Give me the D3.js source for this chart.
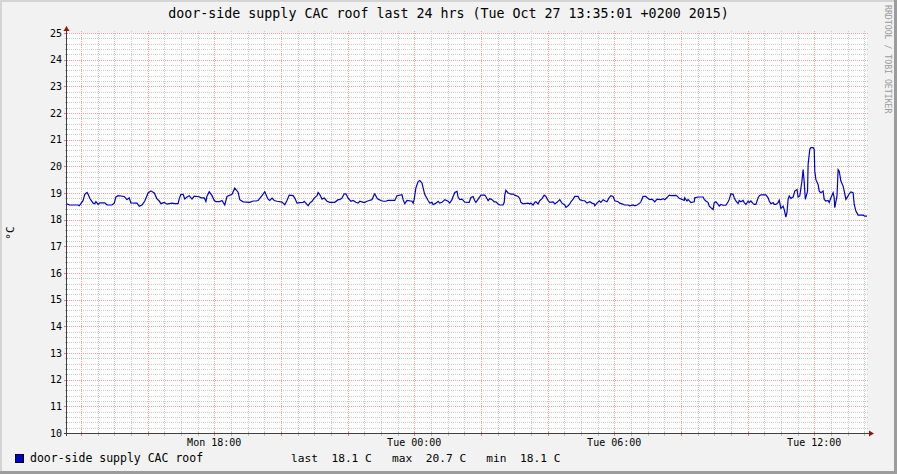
<!DOCTYPE html>
<html><head><meta charset="utf-8">
<script src="https://cdn.jsdelivr.net/npm/d3@7"></script>
<style>html,body{margin:0;padding:0;background:#f1f1f1;} svg{display:block;} text{font-family:'DejaVu Sans Mono',monospace;fill:#000;}</style>
</head><body><svg id="c" width="897" height="474"></svg>
<script>
const title = "door-side supply CAC roof last 24 hrs (Tue Oct 27 13:35:01 +0200 2015)";
const seriesName = "door-side supply CAC roof";
const unitLabel = "°C";
const watermark = "RRDTOOL / TOBI OETIKER";
const yTickValues = [10,11,12,13,14,15,16,17,18,19,20,21,22,23,24,25];
const statNames = ["last","max","min"];
const statValues = [18.1, 20.7, 18.1];
const statUnit = "C";
// clock time at +0200, stored as UTC so the axis shows local wall-clock
const startTime = "2015-10-26T13:35:01Z";
const spanHours = 24;
// minutes after start, temperature in °C
const minutes = [0,4,20,22,25,29,32,36,38,41,47,50,52,56,59,68,72,81,85,88,92,103,108,112,115,126,130,135,140,146,151,157,162,166,169,175,180,189,194,200,202,205,209,212,216,220,225,229,238,241,247,250,252,256,261,265,268,275,279,284,288,297,302,308,311,317,329,335,340,344,351,356,360,
362,365,369,373,378,387,389,392,396,400,407,410,414,419,425,427,430,434,437,441,445,450,452,455,459,463,468,473,482,488,491,495,499,502,506,511,515,520,524,527,533,536,540,544,549,553,554,558,560,565,569,574,578,590,594,603,605,608,612,621,623,625,628,632,635,639,641,644,650,653,657,659,664,668,671,675,680,686,689,693,695,698,702,704,707,711,716,724,
727,731,734,736,742,745,752,754,758,761,765,769,772,776,779,785,787,788,790,794,799,803,806,812,815,817,821,830,833,835,839,842,844,848,851,855,859,862,866,869,875,878,882,887,891,896,898,902,905,907,911,914,920,923,929,932,936,941,945,949,950,954,958,961,965,968,972,976,979,983,986,992,995,999,1004,1010,1013,1019,1022,1026,1031,1033,1037,1042,1046,1049,1053,1058,1062,1069,1073,1076,1080,1084,1087,
1096,1098,1102,1107,1111,1112,1116,1118,1123,1129,1130,1136,1145,1147,1150,1154,1156,1159,1163,1165,1168,1172,1174,1177,1181,1186,1190,1192,1195,1199,1201,1204,1208,1210,1213,1217,1219,1222,1226,1228,1231,1235,1237,1240,1244,1246,1249,1258,1262,1264,1267,1271,1273,1276,1280,1282,1285,1289,1291,1294,1296,1298,1300,1303,1307,1310,1314,1316,1319,1323,1325,1327,1329,1333,1334,1337,1339,1343,1345,1346,1348,1352,1354,1357,1361,1363,1366,1370,1372,1375,1379,1381,1382,1386,1388,1390,1393,1397,1399,1402,1406,1408,1411,1415,1417,1420,1424,1433,1436,1440];
const temps = [18.6,18.55,18.55,18.52,18.6,18.72,18.95,19.02,18.95,18.8,18.62,18.6,18.68,18.57,18.63,18.63,18.55,18.55,18.62,18.85,18.9,18.87,18.75,18.82,18.63,18.62,18.5,18.55,18.7,19.0,19.08,19.0,18.78,18.7,18.6,18.65,18.58,18.62,18.6,18.6,18.78,18.95,18.95,18.78,18.85,18.9,18.77,18.88,18.86,18.82,18.82,18.68,18.88,19.05,18.9,18.72,18.68,18.68,18.72,18.55,18.87,18.95,19.18,19.03,18.75,18.67,18.65,18.7,18.7,18.72,18.9,19.05,18.85,
18.77,18.72,18.81,18.72,18.69,18.66,18.62,18.56,18.72,18.92,18.9,18.81,18.62,18.64,18.65,18.69,18.62,18.52,18.62,18.69,18.81,18.9,19.02,18.94,18.77,18.81,18.69,18.65,18.65,18.75,18.75,18.81,18.97,18.97,18.81,18.69,18.72,18.65,18.62,18.69,18.65,18.65,18.69,18.72,18.75,18.94,18.97,18.81,18.77,18.72,18.69,18.69,18.72,18.72,18.9,18.94,18.75,18.6,18.72,18.69,18.62,18.77,19.19,19.43,19.47,19.37,19.19,18.94,18.72,18.62,18.65,18.56,18.62,18.69,18.62,18.65,18.75,18.69,18.62,18.75,18.87,19.02,19.06,18.85,18.75,18.77,18.66,18.65,
18.83,18.87,18.71,18.65,18.83,18.92,18.92,18.87,18.71,18.79,18.75,18.67,18.67,18.59,18.55,18.55,18.65,18.92,19.1,19.0,18.96,18.96,18.92,18.87,18.79,18.65,18.59,18.62,18.59,18.62,18.55,18.65,18.67,18.59,18.71,18.79,18.92,18.87,18.71,18.65,18.67,18.59,18.65,18.75,18.62,18.55,18.46,18.52,18.59,18.67,18.77,18.87,18.87,18.75,18.71,18.71,18.62,18.67,18.62,18.59,18.52,18.62,18.71,18.65,18.75,18.71,18.67,18.83,18.9,18.87,18.71,18.67,18.62,18.59,18.55,18.55,18.52,18.55,18.52,18.55,18.62,18.67,18.87,18.87,18.79,18.75,18.77,18.67,18.77,18.75,18.79,18.75,18.83,18.92,18.9,
18.91,18.89,18.8,18.76,18.72,18.82,18.7,18.76,18.64,18.67,18.82,18.85,18.85,18.76,18.7,18.64,18.51,18.45,18.38,18.64,18.67,18.57,18.51,18.57,18.54,18.54,18.67,18.76,18.97,18.95,18.82,18.7,18.6,18.72,18.67,18.72,18.64,18.57,18.7,18.64,18.7,18.6,18.57,18.57,18.82,18.89,18.93,18.93,18.82,18.7,18.6,18.64,18.57,18.57,18.64,18.73,18.42,18.51,18.38,18.1,18.28,18.76,18.89,18.8,18.85,19.07,19.13,18.85,18.89,19.46,19.88,19.4,18.76,19.07,20.07,20.63,20.7,20.7,20.63,19.82,19.5,19.32,19.07,19.01,19.07,18.76,18.7,18.72,18.64,18.82,19.01,18.82,18.45,18.89,19.88,19.82,19.45,19.26,19.07,18.76,18.89,18.97,19.04,19.01,18.57,18.32,18.17,18.17,18.13,18.13];

const W = 897, H = 474;
const X0 = 67, X1 = 867, Y0 = 433, Y1 = 33;
const svg = d3.select("#c");
const t0 = new Date(startTime);
const t1 = d3.utcHour.offset(t0, spanHours);
const data = minutes.map((m, i) => ({t: d3.utcMinute.offset(t0, m), v: temps[i]}));

const x = d3.scaleUtc().domain([t0, t1]).range([X0, X1]);
const y = d3.scaleLinear().domain([d3.min(yTickValues), d3.max(yTickValues)]).range([Y0, Y1]);

// background + shading
svg.append("rect").attr("width", W).attr("height", H).attr("fill", "#f2f2f2");
svg.append("rect").attr("x", 0).attr("y", 0).attr("width", W).attr("height", 2).attr("fill", "#d4d4d4");
svg.append("rect").attr("x", 0).attr("y", 0).attr("width", 2).attr("height", H).attr("fill", "#d4d4d4");
svg.append("rect").attr("x", 0).attr("y", H - 3).attr("width", W).attr("height", 3).attr("fill", "#9c9c9c");
svg.append("rect").attr("x", W - 3).attr("y", 0).attr("width", 3).attr("height", H).attr("fill", "#9c9c9c");
svg.append("rect").attr("x", X0).attr("y", Y1).attr("width", X1 - X0).attr("height", Y0 - Y1).attr("fill", "#fff");

const minorCol = "#cdcdcd", majorCol = "#eea3a3";
const g = svg.append("g");
const crisp = v => Math.round(v) + 0.5;

// horizontal grid
const yMinor = d3.range(0, (d3.max(yTickValues) - d3.min(yTickValues)) * 5 + 1).map(i => d3.min(yTickValues) + i / 5).filter(v => Math.abs(v - Math.round(v)) > 1e-6);
g.selectAll(".hmin").data(yMinor).join("line")
  .attr("x1", X0 - 2).attr("x2", X1 + 2).attr("y1", d => crisp(y(d))).attr("y2", d => crisp(y(d)))
  .attr("stroke", minorCol).attr("stroke-dasharray", "1,1");
g.selectAll(".hmaj").data(yTickValues).join("line")
  .attr("x1", X0 - 2).attr("x2", X1 + 2).attr("y1", d => crisp(y(d))).attr("y2", d => crisp(y(d)))
  .attr("stroke", majorCol).attr("stroke-dasharray", "1,1");

// vertical grid
const xMinor = x.ticks(d3.utcMinute.every(30)).filter(d => d.getUTCHours() % 2 !== 0 || d.getUTCMinutes() !== 0);
const xMajor = x.ticks(d3.utcHour.every(2));
g.selectAll(".vmin").data(xMinor).join("line")
  .attr("y1", Y1 - 2).attr("y2", Y0 + 2).attr("x1", d => crisp(x(d))).attr("x2", d => crisp(x(d)))
  .attr("stroke", minorCol).attr("stroke-dasharray", "1,1");
g.selectAll(".vmaj").data(xMajor).join("line")
  .attr("y1", Y1 - 2).attr("y2", Y0 + 2).attr("x1", d => crisp(x(d))).attr("x2", d => crisp(x(d)))
  .attr("stroke", majorCol).attr("stroke-dasharray", "1,1");

// tick marks (solid)
g.selectAll(".ytk").data(yMinor).join("line")
  .attr("x1", X0 - 2).attr("x2", X0 + 1).attr("y1", d => crisp(y(d))).attr("y2", d => crisp(y(d))).attr("stroke", "#bbb");
g.selectAll(".ytkM").data(yTickValues).join("line")
  .attr("x1", X0 - 3).attr("x2", X0 + 1).attr("y1", d => crisp(y(d))).attr("y2", d => crisp(y(d))).attr("stroke", "#e08080");
g.selectAll(".xtk").data(xMinor).join("line")
  .attr("y1", Y0 - 1).attr("y2", Y0 + 3).attr("x1", d => crisp(x(d))).attr("x2", d => crisp(x(d))).attr("stroke", "#bbb");
g.selectAll(".xtkM").data(xMajor).join("line")
  .attr("y1", Y0 - 1).attr("y2", Y0 + 3).attr("x1", d => crisp(x(d))).attr("x2", d => crisp(x(d))).attr("stroke", "#e08080");

// data line
const line = d3.line().x(d => x(d.t)).y(d => y(d.v));
svg.append("path").datum(data).attr("d", line).attr("fill", "none").attr("stroke", "#0000cc").attr("stroke-width", 1.2).attr("stroke-linejoin", "miter");

// axes
const axisCol = "#404040", arrowCol = "#9a1414";
svg.append("line").attr("x1", X0 - 0.5).attr("x2", X0 - 0.5).attr("y1", Y0 + 3).attr("y2", Y1 - 4).attr("stroke", axisCol);
svg.append("line").attr("x1", X0 - 3).attr("x2", X1 + 4).attr("y1", Y0 + 0.5).attr("y2", Y0 + 0.5).attr("stroke", axisCol);
svg.append("path").attr("d", `M${X0 - 3.5},${Y1 - 2} L${X0 + 2.5},${Y1 - 2} L${X0 - 0.5},${Y1 - 7} Z`).attr("fill", arrowCol);
svg.append("path").attr("d", `M${X1 + 2},${Y0 - 2.5} L${X1 + 2},${Y0 + 3.5} L${X1 + 7},${Y0 + 0.5} Z`).attr("fill", arrowCol);

// y labels
svg.selectAll(".yl").data(yTickValues).join("text")
  .attr("x", X0 - 5).attr("y", d => y(d) + 3.6).attr("text-anchor", "end").attr("font-size", 10).text(d => d);
// x labels
const xLabelFmt = d3.utcFormat("%a %H:%M");
svg.selectAll(".xl").data(x.ticks(d3.utcHour.every(6))).join("text")
  .attr("x", d => x(d)).attr("y", Y0 + 13).attr("text-anchor", "middle").attr("font-size", 10).text(d => xLabelFmt(d));

// title
svg.append("text").attr("x", W / 2).attr("y", 18).attr("text-anchor", "middle").attr("font-size", 13.3).text(title);
// unit label
svg.append("text").attr("transform", `translate(14,${(Y0 + Y1) / 2}) rotate(-90)`).attr("text-anchor", "middle").attr("font-size", 11).text(unitLabel);
// watermark
svg.append("text").attr("transform", "translate(885,5) rotate(90)").attr("font-size", 8.2).style("fill", "#9a9a9a").text(watermark);

// legend
svg.append("rect").attr("x", 15.5).attr("y", 454.5).attr("width", 8).attr("height", 8).attr("fill", "#0000cc").attr("stroke", "#000");
svg.append("text").attr("x", 30).attr("y", 462).attr("font-size", 11.5).style("white-space", "pre").text(seriesName);
const statText = statNames.map((n, i) => `${n}  ${d3.format(".1f")(statValues[i])} ${statUnit}`).join("   ");
svg.append("text").attr("x", 291).attr("y", 462).attr("font-size", 11.2).style("white-space", "pre").text(statText);
</script>
</body></html>
